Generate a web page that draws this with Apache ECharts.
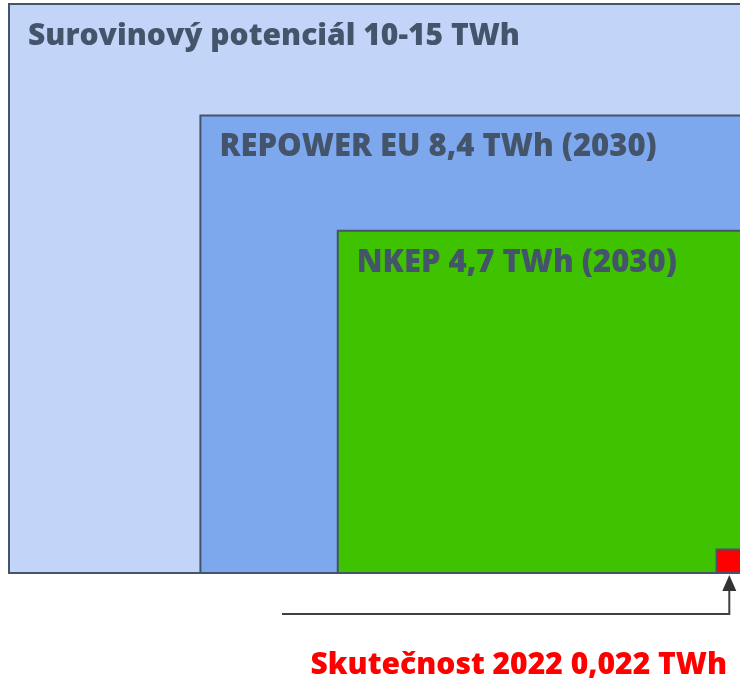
<!DOCTYPE html>
<html>
<head>
<meta charset="utf-8">
<script src="https://cdn.jsdelivr.net/npm/echarts@6/dist/echarts.min.js"></script>
<style>html,body{margin:0;padding:0;background:#fff;}#c{width:740px;height:683px;}</style>
</head>
<body>
<div id="c"></div>
<script>
// Data (TWh)
const labels = ['Surovinový potenciál 10-15 TWh', 'REPOWER EU 8,4 TWh (2030)', 'NKEP 4,7 TWh (2030)', 'Skutečnost 2022 0,022 TWh'];
const values = [13, 8.4, 4.7, 0.022];

const fills = ['#c2d5f8', '#7ea8ee', '#3fc200', '#ff0000'];
const aspect = [1.285, 1.18, 1.176, 1];
const fontSizes = [30, 31, 31, 30];
const ySpan = Math.sqrt(values[0]);
const xSpan = ySpan * aspect[0];

const chart = echarts.init(document.getElementById('c'), null, {renderer: 'canvas'});
const font = '"Open Sans", "Noto Sans", sans-serif';

chart.setOption({
  animation: false,
  grid: {left: 9, right: 0, top: 4, bottom: 110},
  xAxis: {type: 'value', min: 0, max: xSpan, show: false},
  yAxis: {type: 'value', min: 0, max: ySpan, show: false},
  series: [{
    type: 'custom',
    clip: false,
    data: values.map((v, i) => [v, i]),
    renderItem: function (params, api) {
      const v = api.value(0);
      const i = api.value(1);
      const side = Math.sqrt(v);
      const p0 = api.coord([xSpan - side * aspect[i], side]);
      const p1 = api.coord([xSpan, 0]);
      const isLast = i === values.length - 1;
      const children = [{
        type: 'rect',
        shape: {x: p0[0], y: p0[1], width: p1[0] - p0[0] + (isLast ? 1 : 2), height: p1[1] - p0[1]},
        style: {fill: fills[i], stroke: '#44546a', lineWidth: 2}
      }];
      if (!isLast) {
        children.push({
          type: 'text',
          x: p0[0] + 19, y: p0[1] + 32,
          style: {text: labels[i], fill: '#44546a', font: '800 ' + fontSizes[i] + 'px ' + font, textVerticalAlign: 'middle'}
        });
      } else {
        const tipX = p0[0] + (p1[0] - p0[0]) / 2 + 1;
        const tipY = p1[1] + 2;
        children.push({
          type: 'polyline',
          shape: {points: [[282, 614], [tipX, 614], [tipX, tipY + 12]]},
          style: {stroke: '#404040', lineWidth: 2, fill: null}
        });
        children.push({
          type: 'polygon',
          shape: {points: [[tipX, tipY], [tipX - 7, tipY + 16], [tipX + 7, tipY + 16]]},
          style: {fill: '#333333'}
        });
        children.push({
          type: 'text',
          x: 727, y: 665,
          style: {text: labels[i], fill: '#ff0000', font: '800 ' + fontSizes[i] + 'px ' + font, textAlign: 'right', textVerticalAlign: 'middle'}
        });
      }
      return {type: 'group', children: children};
    }
  }]
});
</script>
</body>
</html>
